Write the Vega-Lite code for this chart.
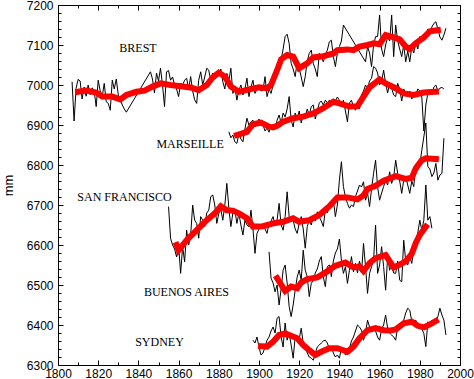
{
  "$schema": "https://vega.github.io/schema/vega-lite/v6.json",
  "autosize": "none",
  "width": 402,
  "height": 360,
  "padding": {"left": 58, "top": 5, "right": 14, "bottom": 14},
  "background": "white",
  "config": {
    "view": {"stroke": "black", "strokeWidth": 1},
    "axis": {"grid": false, "domain": false, "tickColor": "black", "labelColor": "black", "labelFont": "Liberation Sans", "labelFontSize": 12, "titleFont": "Liberation Sans", "titleFontWeight": "normal", "titleColor": "black"}
  },
  "datasets": {
    "annual": [
      {"s":"Brest","t":1807,"v":7008},{"s":"Brest","t":1808,"v":6910},{"s":"Brest","t":1809,"v":6992},{"s":"Brest","t":1810,"v":7014},{"s":"Brest","t":1811,"v":7010},{"s":"Brest","t":1812,"v":6965},{"s":"Brest","t":1813,"v":6995},{"s":"Brest","t":1814,"v":6972},{"s":"Brest","t":1815,"v":7000},{"s":"Brest","t":1816,"v":6976},{"s":"Brest","t":1817,"v":6993},{"s":"Brest","t":1818,"v":6985},{"s":"Brest","t":1819,"v":6946},{"s":"Brest","t":1820,"v":7012},{"s":"Brest","t":1821,"v":6985},{"s":"Brest","t":1822,"v":6971},{"s":"Brest","t":1823,"v":7004},{"s":"Brest","t":1824,"v":6958},{"s":"Brest","t":1825,"v":6954},{"s":"Brest","t":1826,"v":6937},{"s":"Brest","t":1827,"v":7012},{"s":"Brest","t":1828,"v":6990},{"s":"Brest","t":1829,"v":7015},{"s":"Brest","t":1830,"v":6975},{"s":"Brest","t":1831,"v":6965},{"s":"Brest","t":1832,"v":6950},{"s":"Brest","t":1833,"v":6940},{"s":"Brest","t":1834,"v":6932},
      {"s":"Brest","t":1846,"v":7033},{"s":"Brest","t":1847,"v":7015},{"s":"Brest","t":1848,"v":6980},{"s":"Brest","t":1849,"v":7030},{"s":"Brest","t":1850,"v":7010},{"s":"Brest","t":1851,"v":7042},{"s":"Brest","t":1852,"v":7000},{"s":"Brest","t":1853,"v":6946},{"s":"Brest","t":1854,"v":7033},{"s":"Brest","t":1855,"v":7036},{"s":"Brest","t":1856,"v":7012},{"s":"Brest","t":1857,"v":7020},{"s":"Brest","t":1858,"v":7000},{"s":"Brest","t":1859,"v":6990},{"s":"Brest","t":1860,"v":6971},{"s":"Brest","t":1861,"v":7005},{"s":"Brest","t":1862,"v":7000},{"s":"Brest","t":1863,"v":7012},{"s":"Brest","t":1864,"v":7017},{"s":"Brest","t":1865,"v":6990},{"s":"Brest","t":1866,"v":7021},{"s":"Brest","t":1867,"v":6985},{"s":"Brest","t":1868,"v":6963},{"s":"Brest","t":1869,"v":6954},{"s":"Brest","t":1870,"v":7012},{"s":"Brest","t":1871,"v":7033},{"s":"Brest","t":1872,"v":7000},{"s":"Brest","t":1873,"v":7020},{"s":"Brest","t":1874,"v":7042},{"s":"Brest","t":1875,"v":7037},{"s":"Brest","t":1876,"v":7010},{"s":"Brest","t":1877,"v":7030},{"s":"Brest","t":1878,"v":7015},{"s":"Brest","t":1879,"v":7033},{"s":"Brest","t":1880,"v":7025},{"s":"Brest","t":1881,"v":7040},{"s":"Brest","t":1882,"v":7008},{"s":"Brest","t":1883,"v":6990},{"s":"Brest","t":1884,"v":7029},{"s":"Brest","t":1885,"v":7010},{"s":"Brest","t":1886,"v":7042},{"s":"Brest","t":1887,"v":6979},{"s":"Brest","t":1888,"v":6995},{"s":"Brest","t":1889,"v":6962},{"s":"Brest","t":1890,"v":6987},{"s":"Brest","t":1891,"v":7000},{"s":"Brest","t":1892,"v":6975},{"s":"Brest","t":1893,"v":6990},{"s":"Brest","t":1894,"v":7017},{"s":"Brest","t":1895,"v":6971},{"s":"Brest","t":1896,"v":6995},{"s":"Brest","t":1897,"v":7012},{"s":"Brest","t":1898,"v":6979},{"s":"Brest","t":1899,"v":6990},{"s":"Brest","t":1900,"v":7000},{"s":"Brest","t":1901,"v":6985},{"s":"Brest","t":1902,"v":6987},{"s":"Brest","t":1903,"v":7021},{"s":"Brest","t":1904,"v":6971},{"s":"Brest","t":1905,"v":6990},{"s":"Brest","t":1906,"v":6979},{"s":"Brest","t":1907,"v":7000},{"s":"Brest","t":1908,"v":7037},{"s":"Brest","t":1909,"v":7030},{"s":"Brest","t":1910,"v":7050},{"s":"Brest","t":1911,"v":7062},{"s":"Brest","t":1912,"v":7090},{"s":"Brest","t":1913,"v":7121},{"s":"Brest","t":1914,"v":7127},{"s":"Brest","t":1915,"v":7104},{"s":"Brest","t":1916,"v":7054},{"s":"Brest","t":1917,"v":7040},{"s":"Brest","t":1918,"v":7021},{"s":"Brest","t":1919,"v":7058},{"s":"Brest","t":1920,"v":7042},{"s":"Brest","t":1921,"v":7020},{"s":"Brest","t":1922,"v":6996},{"s":"Brest","t":1923,"v":7021},{"s":"Brest","t":1924,"v":7060},{"s":"Brest","t":1925,"v":7079},{"s":"Brest","t":1926,"v":7087},{"s":"Brest","t":1927,"v":7054},{"s":"Brest","t":1928,"v":7040},{"s":"Brest","t":1929,"v":7021},{"s":"Brest","t":1930,"v":7079},{"s":"Brest","t":1931,"v":7070},{"s":"Brest","t":1932,"v":7058},{"s":"Brest","t":1933,"v":7075},{"s":"Brest","t":1934,"v":7087},{"s":"Brest","t":1935,"v":7108},{"s":"Brest","t":1936,"v":7112},{"s":"Brest","t":1937,"v":7071},{"s":"Brest","t":1938,"v":7046},{"s":"Brest","t":1939,"v":7080},{"s":"Brest","t":1940,"v":7096},{"s":"Brest","t":1941,"v":7110},{"s":"Brest","t":1942,"v":7150},
      {"s":"Brest","t":1953,"v":7058},{"s":"Brest","t":1954,"v":7096},{"s":"Brest","t":1955,"v":7080},{"s":"Brest","t":1956,"v":7046},{"s":"Brest","t":1957,"v":7100},{"s":"Brest","t":1958,"v":7121},{"s":"Brest","t":1959,"v":7121},{"s":"Brest","t":1960,"v":7175},{"s":"Brest","t":1961,"v":7090},{"s":"Brest","t":1962,"v":7071},{"s":"Brest","t":1963,"v":7100},{"s":"Brest","t":1964,"v":7120},{"s":"Brest","t":1965,"v":7110},{"s":"Brest","t":1966,"v":7175},{"s":"Brest","t":1967,"v":7071},{"s":"Brest","t":1968,"v":7150},{"s":"Brest","t":1969,"v":7110},{"s":"Brest","t":1970,"v":7090},{"s":"Brest","t":1971,"v":7071},{"s":"Brest","t":1972,"v":7100},{"s":"Brest","t":1973,"v":7058},{"s":"Brest","t":1974,"v":7085},{"s":"Brest","t":1975,"v":7058},{"s":"Brest","t":1976,"v":7095},{"s":"Brest","t":1977,"v":7080},{"s":"Brest","t":1978,"v":7110},{"s":"Brest","t":1979,"v":7090},{"s":"Brest","t":1980,"v":7121},{"s":"Brest","t":1981,"v":7110},{"s":"Brest","t":1982,"v":7125},{"s":"Brest","t":1983,"v":7118},{"s":"Brest","t":1984,"v":7140},{"s":"Brest","t":1985,"v":7129},{"s":"Brest","t":1986,"v":7145},{"s":"Brest","t":1987,"v":7154},{"s":"Brest","t":1988,"v":7158},{"s":"Brest","t":1989,"v":7140},{"s":"Brest","t":1990,"v":7120},{"s":"Brest","t":1991,"v":7112},{"s":"Brest","t":1992,"v":7125},{"s":"Brest","t":1993,"v":7142},

      {"s":"Marseille","t":1885,"v":6883},{"s":"Marseille","t":1886,"v":6868},{"s":"Marseille","t":1887,"v":6875},{"s":"Marseille","t":1888,"v":6858},{"s":"Marseille","t":1889,"v":6854},{"s":"Marseille","t":1890,"v":6878},{"s":"Marseille","t":1891,"v":6865},{"s":"Marseille","t":1892,"v":6858},{"s":"Marseille","t":1893,"v":6890},{"s":"Marseille","t":1894,"v":6917},{"s":"Marseille","t":1895,"v":6900},{"s":"Marseille","t":1896,"v":6908},{"s":"Marseille","t":1897,"v":6912},{"s":"Marseille","t":1898,"v":6895},{"s":"Marseille","t":1899,"v":6905},{"s":"Marseille","t":1900,"v":6915},{"s":"Marseille","t":1901,"v":6898},{"s":"Marseille","t":1902,"v":6900},{"s":"Marseille","t":1903,"v":6885},{"s":"Marseille","t":1904,"v":6892},{"s":"Marseille","t":1905,"v":6882},{"s":"Marseille","t":1906,"v":6900},{"s":"Marseille","t":1907,"v":6895},{"s":"Marseille","t":1908,"v":6890},{"s":"Marseille","t":1909,"v":6912},{"s":"Marseille","t":1910,"v":6925},{"s":"Marseille","t":1911,"v":6905},{"s":"Marseille","t":1912,"v":6930},{"s":"Marseille","t":1913,"v":6920},{"s":"Marseille","t":1914,"v":6940},{"s":"Marseille","t":1915,"v":6971},{"s":"Marseille","t":1916,"v":6912},{"s":"Marseille","t":1917,"v":6895},{"s":"Marseille","t":1918,"v":6930},{"s":"Marseille","t":1919,"v":6915},{"s":"Marseille","t":1920,"v":6935},{"s":"Marseille","t":1921,"v":6905},{"s":"Marseille","t":1922,"v":6925},{"s":"Marseille","t":1923,"v":6920},{"s":"Marseille","t":1924,"v":6940},{"s":"Marseille","t":1925,"v":6925},{"s":"Marseille","t":1926,"v":6946},{"s":"Marseille","t":1927,"v":6950},{"s":"Marseille","t":1928,"v":6915},{"s":"Marseille","t":1929,"v":6935},{"s":"Marseille","t":1930,"v":6955},{"s":"Marseille","t":1931,"v":6960},{"s":"Marseille","t":1932,"v":6950},{"s":"Marseille","t":1933,"v":6962},{"s":"Marseille","t":1934,"v":6955},{"s":"Marseille","t":1935,"v":6962},{"s":"Marseille","t":1936,"v":6958},{"s":"Marseille","t":1937,"v":6965},{"s":"Marseille","t":1938,"v":6960},{"s":"Marseille","t":1939,"v":6970},{"s":"Marseille","t":1940,"v":6962},{"s":"Marseille","t":1941,"v":6945},{"s":"Marseille","t":1942,"v":6962},{"s":"Marseille","t":1943,"v":6935},{"s":"Marseille","t":1944,"v":6908},{"s":"Marseille","t":1945,"v":6955},{"s":"Marseille","t":1946,"v":6962},{"s":"Marseille","t":1947,"v":6945},{"s":"Marseille","t":1948,"v":6937},{"s":"Marseille","t":1949,"v":6950},{"s":"Marseille","t":1950,"v":6940},{"s":"Marseille","t":1951,"v":6975},{"s":"Marseille","t":1952,"v":6985},{"s":"Marseille","t":1953,"v":7000},{"s":"Marseille","t":1954,"v":6990},{"s":"Marseille","t":1955,"v":7010},{"s":"Marseille","t":1956,"v":7017},{"s":"Marseille","t":1957,"v":7046},{"s":"Marseille","t":1958,"v":7042},{"s":"Marseille","t":1959,"v":7030},{"s":"Marseille","t":1960,"v":7000},{"s":"Marseille","t":1961,"v":7010},{"s":"Marseille","t":1962,"v":7037},{"s":"Marseille","t":1963,"v":7004},{"s":"Marseille","t":1964,"v":6980},{"s":"Marseille","t":1965,"v":7005},{"s":"Marseille","t":1966,"v":6992},{"s":"Marseille","t":1967,"v":6975},{"s":"Marseille","t":1968,"v":6971},{"s":"Marseille","t":1969,"v":7004},{"s":"Marseille","t":1970,"v":6990},{"s":"Marseille","t":1971,"v":6960},{"s":"Marseille","t":1972,"v":6990},{"s":"Marseille","t":1973,"v":6980},{"s":"Marseille","t":1974,"v":6970},{"s":"Marseille","t":1975,"v":6985},{"s":"Marseille","t":1976,"v":6965},{"s":"Marseille","t":1977,"v":6980},{"s":"Marseille","t":1978,"v":6975},{"s":"Marseille","t":1979,"v":6990},{"s":"Marseille","t":1980,"v":6985},{"s":"Marseille","t":1981,"v":6970},{"s":"Marseille","t":1982,"v":6885},{"s":"Marseille","t":1983,"v":6950},{"s":"Marseille","t":1984,"v":6979},{"s":"Marseille","t":1985,"v":6985},{"s":"Marseille","t":1986,"v":6975},{"s":"Marseille","t":1987,"v":6995},{"s":"Marseille","t":1988,"v":7000},{"s":"Marseille","t":1989,"v":6985},{"s":"Marseille","t":1990,"v":6992},{"s":"Marseille","t":1991,"v":6994},{"s":"Marseille","t":1992,"v":6990},

      {"s":"SF","t":1855,"v":6696},{"s":"SF","t":1856,"v":6617},{"s":"SF","t":1857,"v":6600},{"s":"SF","t":1858,"v":6590},{"s":"SF","t":1859,"v":6570},{"s":"SF","t":1860,"v":6600},{"s":"SF","t":1861,"v":6529},{"s":"SF","t":1862,"v":6596},{"s":"SF","t":1863,"v":6558},{"s":"SF","t":1864,"v":6637},{"s":"SF","t":1865,"v":6600},{"s":"SF","t":1866,"v":6625},{"s":"SF","t":1867,"v":6700},{"s":"SF","t":1868,"v":6662},{"s":"SF","t":1869,"v":6654},{"s":"SF","t":1870,"v":6617},{"s":"SF","t":1871,"v":6671},{"s":"SF","t":1872,"v":6662},{"s":"SF","t":1873,"v":6646},{"s":"SF","t":1874,"v":6680},{"s":"SF","t":1875,"v":6687},{"s":"SF","t":1876,"v":6721},{"s":"SF","t":1877,"v":6725},{"s":"SF","t":1878,"v":6700},{"s":"SF","t":1879,"v":6654},{"s":"SF","t":1880,"v":6679},{"s":"SF","t":1881,"v":6690},{"s":"SF","t":1882,"v":6662},{"s":"SF","t":1883,"v":6700},{"s":"SF","t":1884,"v":6754},{"s":"SF","t":1885,"v":6692},{"s":"SF","t":1886,"v":6646},{"s":"SF","t":1887,"v":6680},{"s":"SF","t":1888,"v":6687},{"s":"SF","t":1889,"v":6654},{"s":"SF","t":1890,"v":6679},{"s":"SF","t":1891,"v":6650},{"s":"SF","t":1892,"v":6625},{"s":"SF","t":1893,"v":6662},{"s":"SF","t":1894,"v":6650},{"s":"SF","t":1895,"v":6646},{"s":"SF","t":1896,"v":6687},{"s":"SF","t":1897,"v":6640},{"s":"SF","t":1898,"v":6579},{"s":"SF","t":1899,"v":6629},{"s":"SF","t":1900,"v":6640},{"s":"SF","t":1901,"v":6646},{"s":"SF","t":1902,"v":6654},{"s":"SF","t":1903,"v":6640},{"s":"SF","t":1904,"v":6629},{"s":"SF","t":1905,"v":6654},{"s":"SF","t":1906,"v":6660},{"s":"SF","t":1907,"v":6671},{"s":"SF","t":1908,"v":6650},{"s":"SF","t":1909,"v":6662},{"s":"SF","t":1910,"v":6704},{"s":"SF","t":1911,"v":6650},{"s":"SF","t":1912,"v":6637},{"s":"SF","t":1913,"v":6671},{"s":"SF","t":1914,"v":6733},{"s":"SF","t":1915,"v":6671},{"s":"SF","t":1916,"v":6665},{"s":"SF","t":1917,"v":6662},{"s":"SF","t":1918,"v":6640},{"s":"SF","t":1919,"v":6629},{"s":"SF","t":1920,"v":6654},{"s":"SF","t":1921,"v":6671},{"s":"SF","t":1922,"v":6640},{"s":"SF","t":1923,"v":6592},{"s":"SF","t":1924,"v":6646},{"s":"SF","t":1925,"v":6662},{"s":"SF","t":1926,"v":6650},{"s":"SF","t":1927,"v":6671},{"s":"SF","t":1928,"v":6660},{"s":"SF","t":1929,"v":6683},{"s":"SF","t":1930,"v":6670},{"s":"SF","t":1931,"v":6660},{"s":"SF","t":1932,"v":6646},{"s":"SF","t":1933,"v":6687},{"s":"SF","t":1934,"v":6680},{"s":"SF","t":1935,"v":6696},{"s":"SF","t":1936,"v":6700},{"s":"SF","t":1937,"v":6712},{"s":"SF","t":1938,"v":6671},{"s":"SF","t":1939,"v":6700},{"s":"SF","t":1940,"v":6762},{"s":"SF","t":1941,"v":6808},{"s":"SF","t":1942,"v":6746},{"s":"SF","t":1943,"v":6720},{"s":"SF","t":1944,"v":6704},{"s":"SF","t":1945,"v":6692},{"s":"SF","t":1946,"v":6700},{"s":"SF","t":1947,"v":6696},{"s":"SF","t":1948,"v":6721},{"s":"SF","t":1949,"v":6735},{"s":"SF","t":1950,"v":6750},{"s":"SF","t":1951,"v":6745},{"s":"SF","t":1952,"v":6758},{"s":"SF","t":1953,"v":6712},{"s":"SF","t":1954,"v":6730},{"s":"SF","t":1955,"v":6696},{"s":"SF","t":1956,"v":6740},{"s":"SF","t":1957,"v":6779},{"s":"SF","t":1958,"v":6812},{"s":"SF","t":1959,"v":6746},{"s":"SF","t":1960,"v":6712},{"s":"SF","t":1961,"v":6730},{"s":"SF","t":1962,"v":6746},{"s":"SF","t":1963,"v":6762},{"s":"SF","t":1964,"v":6750},{"s":"SF","t":1965,"v":6783},{"s":"SF","t":1966,"v":6754},{"s":"SF","t":1967,"v":6770},{"s":"SF","t":1968,"v":6812},{"s":"SF","t":1969,"v":6779},{"s":"SF","t":1970,"v":6760},{"s":"SF","t":1971,"v":6729},{"s":"SF","t":1972,"v":6762},{"s":"SF","t":1973,"v":6771},{"s":"SF","t":1974,"v":6750},{"s":"SF","t":1975,"v":6729},{"s":"SF","t":1976,"v":6760},{"s":"SF","t":1977,"v":6746},{"s":"SF","t":1978,"v":6800},{"s":"SF","t":1979,"v":6787},{"s":"SF","t":1980,"v":6800},{"s":"SF","t":1981,"v":6837},{"s":"SF","t":1982,"v":6870},{"s":"SF","t":1983,"v":6905},{"s":"SF","t":1984,"v":6796},{"s":"SF","t":1985,"v":6790},{"s":"SF","t":1986,"v":6771},{"s":"SF","t":1987,"v":6780},{"s":"SF","t":1988,"v":6804},{"s":"SF","t":1989,"v":6762},{"s":"SF","t":1990,"v":6775},{"s":"SF","t":1991,"v":6779},{"s":"SF","t":1992,"v":6867},

      {"s":"BA","t":1905,"v":6583},{"s":"BA","t":1906,"v":6517},{"s":"BA","t":1907,"v":6505},{"s":"BA","t":1908,"v":6483},{"s":"BA","t":1909,"v":6500},{"s":"BA","t":1910,"v":6450},{"s":"BA","t":1911,"v":6490},{"s":"BA","t":1912,"v":6537},{"s":"BA","t":1913,"v":6550},{"s":"BA","t":1914,"v":6505},{"s":"BA","t":1915,"v":6446},{"s":"BA","t":1916,"v":6421},{"s":"BA","t":1917,"v":6450},{"s":"BA","t":1918,"v":6487},{"s":"BA","t":1919,"v":6520},{"s":"BA","t":1920,"v":6537},{"s":"BA","t":1921,"v":6512},{"s":"BA","t":1922,"v":6587},{"s":"BA","t":1923,"v":6537},{"s":"BA","t":1924,"v":6521},{"s":"BA","t":1925,"v":6471},{"s":"BA","t":1926,"v":6504},{"s":"BA","t":1927,"v":6512},{"s":"BA","t":1928,"v":6530},{"s":"BA","t":1929,"v":6540},{"s":"BA","t":1930,"v":6560},{"s":"BA","t":1931,"v":6571},{"s":"BA","t":1932,"v":6520},{"s":"BA","t":1933,"v":6496},{"s":"BA","t":1934,"v":6546},{"s":"BA","t":1935,"v":6550},{"s":"BA","t":1936,"v":6521},{"s":"BA","t":1937,"v":6560},{"s":"BA","t":1938,"v":6580},{"s":"BA","t":1939,"v":6590},{"s":"BA","t":1940,"v":6615},{"s":"BA","t":1941,"v":6562},{"s":"BA","t":1942,"v":6529},{"s":"BA","t":1943,"v":6546},{"s":"BA","t":1944,"v":6504},{"s":"BA","t":1945,"v":6537},{"s":"BA","t":1946,"v":6571},{"s":"BA","t":1947,"v":6533},{"s":"BA","t":1948,"v":6554},{"s":"BA","t":1949,"v":6530},{"s":"BA","t":1950,"v":6560},{"s":"BA","t":1951,"v":6530},{"s":"BA","t":1952,"v":6604},{"s":"BA","t":1953,"v":6546},{"s":"BA","t":1954,"v":6479},{"s":"BA","t":1955,"v":6529},{"s":"BA","t":1956,"v":6546},{"s":"BA","t":1957,"v":6562},{"s":"BA","t":1958,"v":6650},{"s":"BA","t":1959,"v":6529},{"s":"BA","t":1960,"v":6550},{"s":"BA","t":1961,"v":6596},{"s":"BA","t":1962,"v":6546},{"s":"BA","t":1963,"v":6487},{"s":"BA","t":1964,"v":6571},{"s":"BA","t":1965,"v":6537},{"s":"BA","t":1966,"v":6554},{"s":"BA","t":1967,"v":6530},{"s":"BA","t":1968,"v":6529},{"s":"BA","t":1969,"v":6560},{"s":"BA","t":1970,"v":6512},{"s":"BA","t":1971,"v":6508},{"s":"BA","t":1972,"v":6612},{"s":"BA","t":1973,"v":6560},{"s":"BA","t":1974,"v":6550},{"s":"BA","t":1975,"v":6571},{"s":"BA","t":1976,"v":6554},{"s":"BA","t":1977,"v":6590},{"s":"BA","t":1978,"v":6612},{"s":"BA","t":1979,"v":6630},{"s":"BA","t":1980,"v":6662},{"s":"BA","t":1981,"v":6637},{"s":"BA","t":1982,"v":6662},{"s":"BA","t":1983,"v":6750},{"s":"BA","t":1984,"v":6662},{"s":"BA","t":1985,"v":6671},{"s":"BA","t":1986,"v":6642},

      {"s":"Sydney","t":1897,"v":6362},{"s":"Sydney","t":1898,"v":6355},{"s":"Sydney","t":1899,"v":6370},{"s":"Sydney","t":1900,"v":6345},{"s":"Sydney","t":1901,"v":6325},{"s":"Sydney","t":1902,"v":6330},{"s":"Sydney","t":1903,"v":6345},{"s":"Sydney","t":1904,"v":6362},{"s":"Sydney","t":1905,"v":6370},{"s":"Sydney","t":1906,"v":6385},{"s":"Sydney","t":1907,"v":6395},{"s":"Sydney","t":1908,"v":6380},{"s":"Sydney","t":1909,"v":6417},{"s":"Sydney","t":1910,"v":6421},{"s":"Sydney","t":1911,"v":6370},{"s":"Sydney","t":1912,"v":6345},{"s":"Sydney","t":1913,"v":6405},{"s":"Sydney","t":1914,"v":6362},{"s":"Sydney","t":1915,"v":6380},{"s":"Sydney","t":1916,"v":6350},{"s":"Sydney","t":1917,"v":6317},{"s":"Sydney","t":1918,"v":6370},{"s":"Sydney","t":1919,"v":6362},{"s":"Sydney","t":1920,"v":6365},{"s":"Sydney","t":1921,"v":6392},{"s":"Sydney","t":1922,"v":6355},{"s":"Sydney","t":1923,"v":6345},{"s":"Sydney","t":1924,"v":6330},{"s":"Sydney","t":1925,"v":6320},{"s":"Sydney","t":1926,"v":6317},{"s":"Sydney","t":1927,"v":6312},{"s":"Sydney","t":1928,"v":6330},{"s":"Sydney","t":1929,"v":6345},{"s":"Sydney","t":1930,"v":6350},{"s":"Sydney","t":1931,"v":6355},{"s":"Sydney","t":1932,"v":6360},{"s":"Sydney","t":1933,"v":6362},{"s":"Sydney","t":1934,"v":6355},{"s":"Sydney","t":1935,"v":6340},{"s":"Sydney","t":1936,"v":6345},{"s":"Sydney","t":1937,"v":6330},{"s":"Sydney","t":1938,"v":6320},{"s":"Sydney","t":1939,"v":6325},{"s":"Sydney","t":1940,"v":6317},{"s":"Sydney","t":1941,"v":6342},{"s":"Sydney","t":1942,"v":6340},{"s":"Sydney","t":1943,"v":6325},{"s":"Sydney","t":1944,"v":6330},{"s":"Sydney","t":1945,"v":6342},{"s":"Sydney","t":1946,"v":6360},{"s":"Sydney","t":1947,"v":6370},{"s":"Sydney","t":1948,"v":6385},{"s":"Sydney","t":1949,"v":6400},{"s":"Sydney","t":1950,"v":6395},{"s":"Sydney","t":1951,"v":6387},{"s":"Sydney","t":1952,"v":6362},{"s":"Sydney","t":1953,"v":6380},{"s":"Sydney","t":1954,"v":6412},{"s":"Sydney","t":1955,"v":6395},{"s":"Sydney","t":1956,"v":6387},{"s":"Sydney","t":1957,"v":6392},{"s":"Sydney","t":1958,"v":6385},{"s":"Sydney","t":1959,"v":6370},{"s":"Sydney","t":1960,"v":6362},{"s":"Sydney","t":1961,"v":6390},{"s":"Sydney","t":1962,"v":6400},{"s":"Sydney","t":1963,"v":6425},{"s":"Sydney","t":1964,"v":6392},{"s":"Sydney","t":1965,"v":6380},{"s":"Sydney","t":1966,"v":6375},{"s":"Sydney","t":1967,"v":6370},{"s":"Sydney","t":1968,"v":6362},{"s":"Sydney","t":1969,"v":6395},{"s":"Sydney","t":1970,"v":6400},{"s":"Sydney","t":1971,"v":6405},{"s":"Sydney","t":1972,"v":6412},{"s":"Sydney","t":1973,"v":6430},{"s":"Sydney","t":1974,"v":6442},{"s":"Sydney","t":1975,"v":6437},{"s":"Sydney","t":1976,"v":6410},{"s":"Sydney","t":1977,"v":6408},{"s":"Sydney","t":1978,"v":6412},{"s":"Sydney","t":1979,"v":6400},{"s":"Sydney","t":1980,"v":6400},{"s":"Sydney","t":1981,"v":6390},{"s":"Sydney","t":1982,"v":6379},{"s":"Sydney","t":1983,"v":6346},{"s":"Sydney","t":1984,"v":6408},{"s":"Sydney","t":1985,"v":6400},{"s":"Sydney","t":1986,"v":6412},{"s":"Sydney","t":1987,"v":6405},{"s":"Sydney","t":1988,"v":6408},{"s":"Sydney","t":1989,"v":6421},{"s":"Sydney","t":1990,"v":6442},{"s":"Sydney","t":1991,"v":6425},{"s":"Sydney","t":1992,"v":6412},{"s":"Sydney","t":1993,"v":6375}
    ],
    "smooth": [
      {"s":"Brest","t":1810,"v":6983},{"s":"Brest","t":1814,"v":6986},{"s":"Brest","t":1819,"v":6981},{"s":"Brest","t":1822,"v":6971},{"s":"Brest","t":1827,"v":6971},{"s":"Brest","t":1831,"v":6964},{"s":"Brest","t":1834,"v":6975},{"s":"Brest","t":1839,"v":6983},{"s":"Brest","t":1843,"v":6986},{"s":"Brest","t":1847,"v":6996},{"s":"Brest","t":1851,"v":7004},{"s":"Brest","t":1856,"v":7000},{"s":"Brest","t":1861,"v":6997},{"s":"Brest","t":1866,"v":6994},{"s":"Brest","t":1870,"v":6987},{"s":"Brest","t":1874,"v":7000},{"s":"Brest","t":1877,"v":7019},{"s":"Brest","t":1880,"v":7031},{"s":"Brest","t":1883,"v":7021},{"s":"Brest","t":1886,"v":6996},{"s":"Brest","t":1890,"v":6983},{"s":"Brest","t":1895,"v":6989},{"s":"Brest","t":1900,"v":6994},{"s":"Brest","t":1904,"v":6992},{"s":"Brest","t":1906,"v":7000},{"s":"Brest","t":1909,"v":7037},{"s":"Brest","t":1911,"v":7064},{"s":"Brest","t":1914,"v":7075},{"s":"Brest","t":1917,"v":7071},{"s":"Brest","t":1920,"v":7042},{"s":"Brest","t":1924,"v":7054},{"s":"Brest","t":1927,"v":7069},{"s":"Brest","t":1932,"v":7072},{"s":"Brest","t":1937,"v":7079},{"s":"Brest","t":1939,"v":7087},{"s":"Brest","t":1944,"v":7089},{"s":"Brest","t":1947,"v":7087},{"s":"Brest","t":1950,"v":7096},{"s":"Brest","t":1954,"v":7100},{"s":"Brest","t":1957,"v":7104},{"s":"Brest","t":1960,"v":7102},{"s":"Brest","t":1963,"v":7125},{"s":"Brest","t":1967,"v":7119},{"s":"Brest","t":1970,"v":7114},{"s":"Brest","t":1973,"v":7096},{"s":"Brest","t":1975,"v":7090},{"s":"Brest","t":1978,"v":7104},{"s":"Brest","t":1982,"v":7119},{"s":"Brest","t":1985,"v":7134},{"s":"Brest","t":1989,"v":7137},
      {"s":"Marseille","t":1889,"v":6875},{"s":"Marseille","t":1894,"v":6883},{"s":"Marseille","t":1897,"v":6902},{"s":"Marseille","t":1901,"v":6906},{"s":"Marseille","t":1905,"v":6896},{"s":"Marseille","t":1907,"v":6894},{"s":"Marseille","t":1909,"v":6898},{"s":"Marseille","t":1912,"v":6908},{"s":"Marseille","t":1917,"v":6917},{"s":"Marseille","t":1922,"v":6921},{"s":"Marseille","t":1927,"v":6929},{"s":"Marseille","t":1932,"v":6942},{"s":"Marseille","t":1937,"v":6958},{"s":"Marseille","t":1940,"v":6954},{"s":"Marseille","t":1945,"v":6946},{"s":"Marseille","t":1949,"v":6947},{"s":"Marseille","t":1952,"v":6971},{"s":"Marseille","t":1955,"v":6994},{"s":"Marseille","t":1960,"v":7014},{"s":"Marseille","t":1963,"v":7004},{"s":"Marseille","t":1968,"v":6992},{"s":"Marseille","t":1972,"v":6979},{"s":"Marseille","t":1977,"v":6975},{"s":"Marseille","t":1982,"v":6981},{"s":"Marseille","t":1988,"v":6983},
      {"s":"SF","t":1859,"v":6600},{"s":"SF","t":1860,"v":6587},{"s":"SF","t":1864,"v":6612},{"s":"SF","t":1869,"v":6637},{"s":"SF","t":1874,"v":6662},{"s":"SF","t":1878,"v":6679},{"s":"SF","t":1881,"v":6697},{"s":"SF","t":1884,"v":6687},{"s":"SF","t":1887,"v":6686},{"s":"SF","t":1890,"v":6679},{"s":"SF","t":1894,"v":6667},{"s":"SF","t":1897,"v":6646},{"s":"SF","t":1902,"v":6647},{"s":"SF","t":1907,"v":6654},{"s":"SF","t":1912,"v":6658},{"s":"SF","t":1917,"v":6667},{"s":"SF","t":1920,"v":6658},{"s":"SF","t":1925,"v":6662},{"s":"SF","t":1930,"v":6675},{"s":"SF","t":1935,"v":6697},{"s":"SF","t":1939,"v":6719},{"s":"SF","t":1944,"v":6719},{"s":"SF","t":1949,"v":6714},{"s":"SF","t":1952,"v":6724},{"s":"SF","t":1954,"v":6740},{"s":"SF","t":1958,"v":6748},{"s":"SF","t":1962,"v":6761},{"s":"SF","t":1968,"v":6772},{"s":"SF","t":1973,"v":6765},{"s":"SF","t":1976,"v":6768},{"s":"SF","t":1978,"v":6792},{"s":"SF","t":1981,"v":6812},{"s":"SF","t":1983,"v":6817},{"s":"SF","t":1988,"v":6815},
      {"s":"BA","t":1909,"v":6517},{"s":"BA","t":1913,"v":6485},{"s":"BA","t":1916,"v":6496},{"s":"BA","t":1919,"v":6492},{"s":"BA","t":1921,"v":6506},{"s":"BA","t":1924,"v":6515},{"s":"BA","t":1929,"v":6519},{"s":"BA","t":1933,"v":6531},{"s":"BA","t":1938,"v":6548},{"s":"BA","t":1943,"v":6556},{"s":"BA","t":1947,"v":6544},{"s":"BA","t":1950,"v":6547},{"s":"BA","t":1952,"v":6535},{"s":"BA","t":1955,"v":6555},{"s":"BA","t":1958,"v":6567},{"s":"BA","t":1963,"v":6575},{"s":"BA","t":1967,"v":6544},{"s":"BA","t":1970,"v":6551},{"s":"BA","t":1973,"v":6559},{"s":"BA","t":1976,"v":6578},{"s":"BA","t":1978,"v":6605},{"s":"BA","t":1980,"v":6625},{"s":"BA","t":1983,"v":6646},
      {"s":"Sydney","t":1901,"v":6347},{"s":"Sydney","t":1904,"v":6346},{"s":"Sydney","t":1907,"v":6358},{"s":"Sydney","t":1910,"v":6375},{"s":"Sydney","t":1913,"v":6379},{"s":"Sydney","t":1915,"v":6375},{"s":"Sydney","t":1919,"v":6367},{"s":"Sydney","t":1922,"v":6350},{"s":"Sydney","t":1925,"v":6337},{"s":"Sydney","t":1928,"v":6325},{"s":"Sydney","t":1931,"v":6333},{"s":"Sydney","t":1935,"v":6342},{"s":"Sydney","t":1939,"v":6342},{"s":"Sydney","t":1942,"v":6337},{"s":"Sydney","t":1944,"v":6333},{"s":"Sydney","t":1947,"v":6346},{"s":"Sydney","t":1950,"v":6367},{"s":"Sydney","t":1954,"v":6387},{"s":"Sydney","t":1958,"v":6392},{"s":"Sydney","t":1962,"v":6387},{"s":"Sydney","t":1965,"v":6386},{"s":"Sydney","t":1968,"v":6389},{"s":"Sydney","t":1972,"v":6404},{"s":"Sydney","t":1976,"v":6408},{"s":"Sydney","t":1979,"v":6398},{"s":"Sydney","t":1982,"v":6394},{"s":"Sydney","t":1986,"v":6404},{"s":"Sydney","t":1988,"v":6410}
    ],
    "labels": [
      {"label":"BREST","t":1839.8,"v":7092},
      {"label":"MARSEILLE","t":1865.7,"v":6852},
      {"label":"SAN FRANCISCO","t":1833.1,"v":6720},
      {"label":"BUENOS AIRES","t":1863.9,"v":6482},
      {"label":"SYDNEY","t":1850.5,"v":6357}
    ]
  },
  "layer": [
    {
      "data": {"name": "annual"},
      "mark": {"type": "line", "color": "black", "strokeWidth": 1, "clip": true},
      "encoding": {
        "x": {"field": "t", "type": "quantitative", "scale": {"domain": [1800, 2000], "nice": false, "zero": false},
          "axis": {"orient": "bottom", "title": null, "values": [1800,1810,1820,1830,1840,1850,1860,1870,1880,1890,1900,1910,1920,1930,1940,1950,1960,1970,1980,1990,2000], "format": "d", "labelExpr": "datum.value % 20 === 0 ? datum.label : ''", "labelFlush": false, "labelOverlap": false, "labelBound": false, "labelPadding": 8, "tickSize": {"condition": {"test": "datum.value % 20 === 0", "value": -5}, "value": -3}}},
        "y": {"field": "v", "type": "quantitative", "scale": {"domain": [6300, 7200], "nice": false, "zero": false},
          "axis": {"orient": "left", "title": "mm", "titleFontSize": 13, "titlePadding": 11, "values": [6300,6320,6340,6360,6380,6400,6420,6440,6460,6480,6500,6520,6540,6560,6580,6600,6620,6640,6660,6680,6700,6720,6740,6760,6780,6800,6820,6840,6860,6880,6900,6920,6940,6960,6980,7000,7020,7040,7060,7080,7100,7120,7140,7160,7180,7200], "format": "d", "labelExpr": "datum.value % 100 === 0 ? datum.label : ''", "labelOverlap": false, "labelBound": false, "labelPadding": 10, "tickSize": {"condition": {"test": "datum.value % 100 === 0", "value": -5}, "value": -3}}},
        "detail": {"field": "s"}
      }
    },
    {
      "data": {"name": "smooth"},
      "mark": {"type": "line", "color": "#ff0000", "strokeWidth": 6, "strokeCap": "square", "clip": true},
      "encoding": {
        "x": {"field": "t", "type": "quantitative",
          "axis": {"orient": "top", "title": null, "labels": false, "values": [1800,1810,1820,1830,1840,1850,1860,1870,1880,1890,1900,1910,1920,1930,1940,1950,1960,1970,1980,1990,2000], "tickSize": {"condition": {"test": "datum.value % 20 === 0", "value": -5}, "value": -3}}},
        "y": {"field": "v", "type": "quantitative",
          "axis": {"orient": "right", "title": null, "labels": false, "values": [6300,6320,6340,6360,6380,6400,6420,6440,6460,6480,6500,6520,6540,6560,6580,6600,6620,6640,6660,6680,6700,6720,6740,6760,6780,6800,6820,6840,6860,6880,6900,6920,6940,6960,6980,7000,7020,7040,7060,7080,7100,7120,7140,7160,7180,7200], "tickSize": {"condition": {"test": "datum.value % 100 === 0", "value": -5}, "value": -3}}},
        "detail": {"field": "s"}
      }
    },
    {
      "data": {"name": "labels"},
      "mark": {"type": "text", "font": "Liberation Serif", "fontSize": 12, "color": "black", "align": "center", "baseline": "middle"},
      "encoding": {
        "x": {"field": "t", "type": "quantitative", "axis": null},
        "y": {"field": "v", "type": "quantitative", "axis": null},
        "text": {"field": "label"}
      }
    }
  ],
  "resolve": {"axis": {"x": "independent", "y": "independent"}}
}
